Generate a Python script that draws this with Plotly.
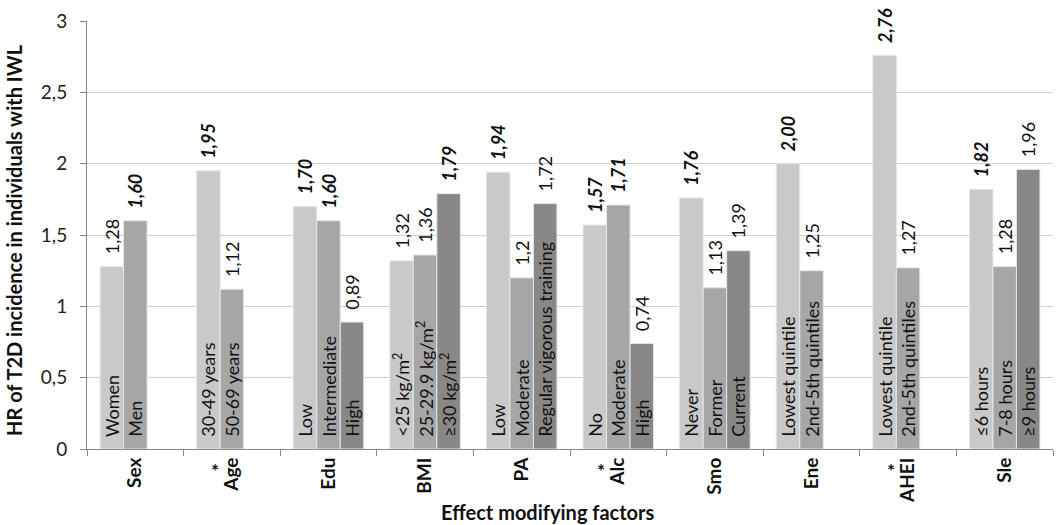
import plotly.graph_objects as go

categories = ["Sex", "Age", "Edu", "BMI", "PA", "Alc", "Smo", "Ene", "AHEI", "Sle"]
starred = ["Age", "Alc", "AHEI"]

# series 1 (first level), series 2 (second level), series 3 (third level)
s1_values = [1.28, 1.95, 1.70, 1.32, 1.94, 1.57, 1.76, 2.00, 2.76, 1.82]
s2_values = [1.60, 1.12, 1.60, 1.36, 1.20, 1.71, 1.13, 1.25, 1.27, 1.28]
s3_values = [None, None, 0.89, 1.79, 1.72, 0.74, 1.39, None, None, 1.96]

s1_names = ["Women", "30-49 years", "Low", "<25 kg/m<sup>2</sup>", "Low", "No", "Never",
            "Lowest quintile", "Lowest quintile", "≤6 hours"]
s2_names = ["Men", "50-69 years", "Intermediate", "25-29.9 kg/m<sup>2</sup>", "Moderate", "Moderate",
            "Former", "2nd-5th quintiles", "2nd-5th quintiles", "7-8 hours"]
s3_names = [None, None, "High", "≥30 kg/m<sup>2</sup>", "Regular vigorous training", "High",
            "Current", None, None, "≥9 hours"]

s1_labels = ["1,28", "1,95", "1,70", "1,32", "1,94", "1,57", "1,76", "2,00", "2,76", "1,82"]
s2_labels = ["1,60", "1,12", "1,60", "1,36", "1,2", "1,71", "1,13", "1,25", "1,27", "1,28"]
s3_labels = [None, None, "0,89", "1,79", "1,72", "0,74", "1,39", None, None, "1,96"]

s1_bold = [False, True, True, False, True, True, True, True, True, True]
s2_bold = [True, False, True, False, False, True, False, False, False, False]
s3_bold = [False, False, False, True, False, False, False, False, False, False]

colors = ["#C9C9C9", "#A6A6A6", "#888888"]
FONT = "Lato"
PAD = "\u00a0\u00a0"

fig = go.Figure()

series = [
    (s1_values, s1_names, s1_labels, s1_bold, colors[0]),
    (s2_values, s2_names, s2_labels, s2_bold, colors[1]),
    (s3_values, s3_names, s3_labels, s3_bold, colors[2]),
]

for i, (vals, names, labels, bold, col) in enumerate(series):
    txt = [None if n is None else PAD + n for n in names]
    fig.add_trace(go.Bar(
        x=categories, y=vals, offsetgroup=str(i),
        marker=dict(color=col, line=dict(color="#E6E6E6", width=1)),
        text=txt, textposition="inside", insidetextanchor="start",
        textangle=-90, insidetextfont=dict(family=FONT, size=18, color="#111111"),
        constraintext="none", showlegend=False, hoverinfo="skip",
    ))

for i, (vals, names, labels, bold, col) in enumerate(series):
    txt = [None if l is None else PAD + (("<b><i>%s</i></b>" % l) if b else l)
           for l, b in zip(labels, bold)]
    fig.add_trace(go.Bar(
        x=categories, y=vals, offsetgroup=str(i),
        marker=dict(color="rgba(0,0,0,0)", line=dict(width=0)),
        text=txt, textposition="outside", textangle=-90,
        outsidetextfont=dict(family=FONT, size=18, color="#111111"),
        constraintext="none", cliponaxis=False, showlegend=False, hoverinfo="skip",
    ))

annotations = [
    dict(text="<b>HR of T2D incidence in individuals with IWL</b>",
         xref="paper", yref="paper", x=0, y=0.5, xshift=-73, yshift=-5,
         textangle=-90, showarrow=False, xanchor="center", yanchor="middle",
         font=dict(family=FONT, size=20, color="#111111")),
    dict(text="<b>Effect modifying factors</b>",
         xref="paper", yref="paper", x=0.477, y=0, yshift=-63,
         showarrow=False, xanchor="center", yanchor="middle",
         font=dict(family=FONT, size=20, color="#111111")),
]
for c in starred:
    annotations.append(dict(text="<b>*</b>", x=c, xref="x", yref="paper", y=0,
                            xshift=-17, yshift=-8, showarrow=False,
                            xanchor="center", yanchor="top",
                            font=dict(family=FONT, size=19, color="#111111")))

fig.update_layout(
    barmode="group", bargap=0.27, bargroupgap=0,
    width=1060, height=525,
    margin=dict(l=87, r=7, t=21, b=76, autoexpand=False),
    plot_bgcolor="white", paper_bgcolor="white",
    separators=",.",
    uniformtext=dict(minsize=18, mode="show"),
    font=dict(family=FONT, size=16, color="#222222"),
    xaxis=dict(
        type="category", categoryorder="array", categoryarray=categories,
        tickangle=-90, tickson="boundaries", ticks="outside", ticklen=6,
        tickcolor="#888888", showline=True, linecolor="#888888", linewidth=1,
        tickfont=dict(family=FONT, size=19, color="#111111", weight="bold"),
        showgrid=False, automargin=False,
    ),
    yaxis=dict(
        range=[0, 3], dtick=0.5, tick0=0,
        showgrid=True, gridcolor="#D0D0D0", gridwidth=1,
        showline=True, linecolor="#888888", linewidth=1,
        ticks="outside", ticklen=6, tickcolor="#888888",
        tickfont=dict(family=FONT, size=19, color="#222222"),
        zeroline=False, automargin=False, ticklabelstandoff=9,
    ),
    annotations=annotations,
)

fig.write_html("out.html", config={"displayModeBar": False},
               post_script="document.body.style.margin='0px';")
